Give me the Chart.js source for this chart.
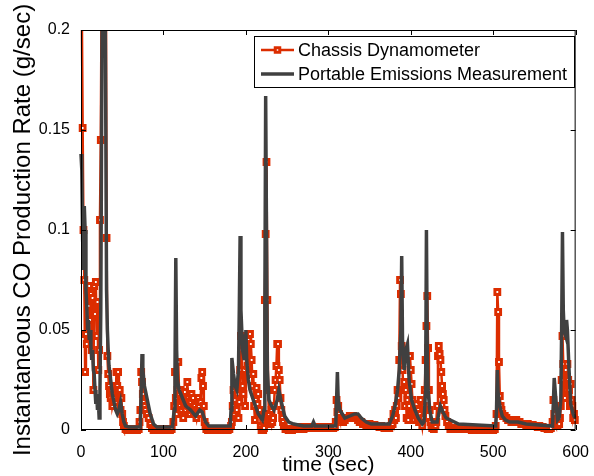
<!DOCTYPE html>
<html>
<head>
<meta charset="utf-8">
<script src="https://cdn.jsdelivr.net/npm/chart.js@4.4.0/dist/chart.umd.min.js"></script>
<style>
  html, body { margin: 0; padding: 0; background: #fff; }
  #wrap { width: 594px; height: 476px; }
</style>
</head>
<body>
<div id="wrap"><canvas id="coChart" width="594" height="476"></canvas></div>
<script>
const xTicks = [0, 100, 200, 300, 400, 500, 600];
const xTickLabels = ['0', '100', '200', '300', '400', '500', '600'];
const yTicks = [0, 0.05, 0.1, 0.15, 0.2];
const yTickLabels = ['0', '0.05', '0.1', '0.15', '0.2'];
const seriesNames = ['Chassis Dynamometer', 'Portable Emissions Measurement'];

// [time (sec), CO rate (g/sec)]
const chassisDyno = [
  [0,0.26],[1,0.21],[2,0.151],[3,0.1],[4,0.075],[5,0.029],[6,0.048],[7,0.043],[8,0.07],[9,0.062],
  [10,0.072],[11,0.055],[12,0.068],[13,0.04],[14,0.066],[15,0.02],[16,0.072],[17,0.058],[18,0.074],[19,0.047],
  [20,0.064],[21,0.03],[22,0.04],[23,0.105],[24,0.145],[25,0.22],[26,0.26],[28,0.26],[30,0.26],[31,0.096],
  [32,0.037],[33,0.028],[34,0.022],[35,0.018],[36,0.016],[37,0.02],[38,0.012],[39,0.014],[40,0.016],[41,0.022],
  [42,0.014],[43,0.029],[44,0.022],[45,0.029],[46,0.016],[47,0.02],[48,0.01],[49,0.016],[50,0.008],[51,0.004],
  [52,0.002],[54,0.0005],[56,0],[58,0],[60,0.0005],[62,0],[64,0.0005],[66,0],[68,0],[70,0.0005],
  [71,0.004],[72,0.01],[73,0.029],[74,0.024],[75,0.018],[76,0.014],[77,0.012],[78,0.01],[80,0.008],[82,0.006],
  [84,0.003],[86,0.001],[88,0],[90,0],[92,0.0005],[94,0],[96,0],[98,0.0005],[100,0],[102,0],
  [104,0.0005],[106,0],[108,0],[110,0.0005],[112,0.004],[113,0.012],[114,0.029],[115,0.016],[116,0.008],[117,0.02],
  [118,0.034],[119,0.018],[120,0.012],[121,0.02],[122,0.01],[123,0.016],[124,0.006],[125,0.012],[126,0.019],[127,0.01],
  [128,0.014],[129,0.024],[130,0.016],[131,0.012],[132,0.008],[133,0.014],[134,0.018],[135,0.01],[136,0.016],[137,0.008],
  [138,0.012],[139,0.008],[140,0.006],[141,0.01],[142,0.016],[143,0.012],[144,0.008],[145,0.014],[146,0.026],[147,0.029],
  [148,0.022],[149,0.012],[150,0.004],[151,0.002],[152,0.0005],[154,0],[156,0],[158,0.0005],[160,0],[162,0],
  [164,0.0005],[166,0],[168,0],[170,0.0005],[172,0],[174,0],[176,0.0005],[178,0],[180,0.0005],[182,0.002],
  [183,0.004],[184,0.012],[185,0.02],[186,0.008],[187,0.015],[188,0.022],[189,0.01],[190,0.018],[191,0.006],[192,0.014],
  [193,0.03],[194,0.047],[195,0.04],[196,0.022],[197,0.018],[198,0.03],[199,0.012],[200,0.038],[201,0.047],[202,0.032],
  [203,0.045],[204,0.028],[205,0.048],[206,0.043],[207,0.035],[208,0.022],[209,0.028],[210,0.012],[211,0.005],[212,0.015],
  [213,0.021],[214,0.013],[215,0.018],[216,0.008],[217,0.01],[218,0.002],[219,0],[220,0],[221,0],[222,0.001],
  [223,0.065],[224,0.098],[225,0.134],[226,0.065],[227,0.02],[228,0.008],[229,0.004],[230,0.003],[231,0.01],[232,0.004],
  [233,0.006],[234,0.012],[235,0.02],[236,0.025],[237,0.032],[238,0.043],[239,0.043],[240,0.03],[241,0.025],[242,0.016],
  [243,0.01],[244,0.006],[245,0.004],[246,0.002],[248,0.0005],[250,0.0005],[252,0],[254,0.0005],[256,0],[258,0.0005],
  [260,0.0005],[262,0.001],[264,0.0005],[266,0.0015],[268,0.001],[270,0.0005],[272,0.001],[274,0.0015],[276,0.001],[278,0.0015],
  [280,0.001],[282,0.0015],[284,0.001],[286,0.0015],[288,0.0015],[290,0.001],[292,0.0015],[294,0.001],[296,0.0015],[298,0.001],
  [300,0.0015],[302,0.001],[304,0.0015],[306,0.001],[308,0.0015],[309,0.004],[310,0.015],[311,0.009],[312,0.012],[313,0.008],
  [314,0.006],[316,0.005],[318,0.004],[320,0.005],[322,0.006],[324,0.006],[326,0.007],[328,0.006],[330,0.007],[332,0.006],
  [334,0.006],[336,0.005],[338,0.004],[340,0.004],[342,0.003],[344,0.003],[346,0.0025],[348,0.003],[350,0.003],[352,0.0025],
  [354,0.002],[356,0.0025],[358,0.002],[360,0.002],[362,0.0015],[364,0.002],[366,0.0015],[368,0.001],[370,0.0015],[372,0.001],
  [374,0.001],[376,0.002],[377,0.004],[378,0.003],[379,0.008],[380,0.005],[381,0.01],[382,0.006],[383,0.012],[384,0.02],
  [385,0.016],[386,0.035],[387,0.075],[388,0.068],[389,0.042],[390,0.03],[391,0.02],[392,0.024],[393,0.012],[394,0.02],
  [395,0.006],[396,0.015],[397,0.005],[398,0.012],[399,0.037],[400,0.03],[401,0.023],[402,0.015],[403,0.008],[404,0.005],
  [405,0.012],[406,0.008],[407,0.013],[408,0.006],[409,0.01],[410,0.004],[411,0.008],[412,0.015],[413,0.005],[414,0.002],
  [415,0.006],[416,0.012],[417,0.02],[418,0.035],[419,0.052],[420,0.067],[421,0.041],[422,0.02],[423,0.01],[424,0.004],
  [425,0.002],[426,0.001],[428,0.0005],[430,0.002],[431,0.004],[432,0.012],[433,0.037],[434,0.042],[435,0.038],[436,0.035],
  [437,0.029],[438,0.022],[439,0.018],[440,0.015],[441,0.01],[442,0.007],[444,0.004],[446,0.002],[448,0.0005],[450,0.0005],
  [452,0.001],[454,0.0005],[456,0.001],[458,0.0005],[460,0.0005],[462,0.001],[464,0.0005],[466,0.0005],[468,0.001],[470,0.0005],
  [472,0.0005],[474,0],[476,0.0005],[478,0],[480,0],[482,0.0005],[484,0],[486,0],[488,0.0005],[490,0],
  [492,0],[494,0],[496,0.0005],[498,0],[500,0],[502,0.0005],[503,0.002],[504,0.008],[505,0.069],[506,0.059],
  [507,0.034],[508,0.017],[509,0.012],[510,0.01],[511,0.008],[512,0.007],[514,0.007],[516,0.006],[518,0.005],[520,0.005],
  [522,0.004],[524,0.004],[526,0.004],[528,0.005],[530,0.004],[532,0.004],[534,0.003],[536,0.003],[538,0.003],[540,0.0025],
  [542,0.003],[544,0.0025],[546,0.002],[548,0.0025],[550,0.002],[552,0.002],[554,0.0015],[556,0.002],[558,0.0015],[560,0.0015],
  [562,0.001],[564,0.001],[566,0.0005],[568,0.0005],[570,0.001],[572,0.004],[573,0.015],[574,0.008],[575,0.003],[576,0.002],
  [578,0.002],[580,0.003],[581,0.006],[582,0.012],[583,0.025],[584,0.047],[585,0.033],[586,0.02],[587,0.016],[588,0.03],
  [589,0.02],[590,0.033],[591,0.025],[592,0.02],[593,0.012],[594,0.023],[595,0.015],[596,0.012],[597,0.006],[598,0.008],[599,0.005]
];

const pemsData = [
  [0,0.138],[1,0.13],[2,0.095],[3,0.08],[4,0.112],[5,0.1],[6,0.07],[7,0.062],[8,0.05],[9,0.055],
  [10,0.045],[11,0.05],[12,0.042],[13,0.035],[14,0.04],[15,0.03],[16,0.028],[17,0.02],[18,0.013],[19,0.018],
  [20,0.01],[21,0.015],[22,0.006],[23,0.02],[24,0.06],[25,0.15],[26,0.24],[29,0.24],[30,0.16],[31,0.07],
  [32,0.05],[33,0.04],[34,0.032],[36,0.025],[38,0.018],[40,0.014],[42,0.01],[44,0.008],[46,0.01],[48,0.014],
  [50,0.008],[52,0.004],[54,0.002],[58,0.0015],[72,0.0015],[73,0.02],[74,0.038],[75,0.03],[77,0.022],[80,0.016],
  [84,0.008],[88,0.003],[92,0.0015],[111,0.0015],[113,0.01],[114,0.03],[115,0.086],[116,0.04],[117,0.025],[119,0.02],
  [123,0.016],[127,0.012],[133,0.01],[139,0.007],[144,0.01],[147,0.009],[151,0.004],[155,0.002],[181,0.002],[182,0.01],
  [183,0.036],[185,0.028],[187,0.022],[189,0.02],[191,0.03],[192,0.06],[193,0.097],[194,0.06],[196,0.04],[198,0.035],
  [199,0.047],[200,0.05],[201,0.035],[203,0.025],[205,0.02],[209,0.015],[215,0.008],[220,0.005],[222,0.01],[223,0.06],
  [224,0.167],[225,0.1],[226,0.03],[228,0.015],[230,0.013],[234,0.01],[238,0.015],[240,0.02],[243,0.014],[247,0.007],
  [252,0.004],[258,0.003],[270,0.002],[280,0.002],[282,0.004],[284,0.002],[309,0.002],[310,0.015],[311,0.029],[312,0.015],
  [314,0.01],[317,0.008],[320,0.006],[326,0.007],[332,0.008],[336,0.008],[340,0.006],[346,0.004],[352,0.003],[374,0.003],
  [378,0.007],[381,0.012],[384,0.02],[386,0.03],[388,0.05],[389,0.087],[390,0.045],[392,0.03],[394,0.04],[396,0.043],
  [398,0.025],[401,0.015],[405,0.01],[409,0.006],[414,0.003],[416,0.004],[418,0.02],[419,0.1],[420,0.04],[421,0.02],
  [423,0.01],[426,0.004],[432,0.004],[434,0.008],[436,0.012],[439,0.009],[443,0.006],[448,0.005],[458,0.003],[503,0.002],
  [504,0.01],[505,0.03],[506,0.018],[508,0.012],[511,0.007],[515,0.005],[520,0.004],[530,0.004],[540,0.003],[572,0.002],
  [574,0.026],[576,0.015],[578,0.005],[580,0.006],[582,0.015],[583,0.05],[584,0.099],[585,0.06],[586,0.05],[588,0.047],
  [589,0.055],[590,0.05],[592,0.03],[594,0.013],[597,0.008],[599,0.006]
];

const RED = '#dc2d00';
const GRAY = '#404040';
const FONT = "'Liberation Sans', Arial, Helvetica, sans-serif";

// box, inward ticks and boxed legend, MATLAB style
const matlabFrame = {
    id: 'matlabFrame',
    afterDraw(chart) {
        const { ctx, chartArea: a, scales: { x, y } } = chart;
        ctx.save();
        ctx.strokeStyle = '#000';
        ctx.lineWidth = 1;
        ctx.beginPath();
        ctx.rect(a.left + 0.5, a.top + 0.5, a.right - a.left - 1, a.bottom - a.top - 1);
        xTicks.forEach(v => {
            const px = Math.round(x.getPixelForValue(v)) + 0.5;
            ctx.moveTo(px, a.bottom); ctx.lineTo(px, a.bottom - 5);
            ctx.moveTo(px, a.top); ctx.lineTo(px, a.top + 5);
        });
        yTicks.forEach(v => {
            const py = Math.round(y.getPixelForValue(v)) + 0.5;
            ctx.moveTo(a.left, py); ctx.lineTo(a.left + 5, py);
            ctx.moveTo(a.right, py); ctx.lineTo(a.right - 5, py);
        });
        ctx.stroke();

        // legend
        const lx = 254, ly = 36, lw = 320, lh = 51;
        ctx.fillStyle = '#fff';
        ctx.fillRect(lx, ly, lw, lh);
        ctx.strokeRect(lx + 0.5, ly + 0.5, lw, lh);

        const rows = [50, 74];
        ctx.lineWidth = 2.5;
        ctx.strokeStyle = RED;
        ctx.beginPath(); ctx.moveTo(261, rows[0]); ctx.lineTo(294, rows[0]); ctx.stroke();
        ctx.lineWidth = 3;
        ctx.fillStyle = '#fff';
        ctx.beginPath(); ctx.rect(275.25, rows[0] - 2.25, 4.5, 4.5); ctx.fill(); ctx.stroke();
        ctx.lineWidth = 3.5;
        ctx.strokeStyle = GRAY;
        ctx.beginPath(); ctx.moveTo(261, rows[1]); ctx.lineTo(294, rows[1]); ctx.stroke();

        ctx.fillStyle = '#000';
        ctx.font = '18px ' + FONT;
        ctx.textBaseline = 'middle';
        ctx.textAlign = 'left';
        ctx.fillText(seriesNames[0], 298, rows[0] + 1);
        ctx.fillText(seriesNames[1], 298, rows[1] + 1);
        ctx.restore();
    }
};

const toPoints = arr => arr.map(p => ({ x: p[0], y: p[1] }));

const ctx = document.getElementById('coChart').getContext('2d');
new Chart(ctx, {
    type: 'line',
    data: {
        datasets: [
            {
                label: seriesNames[0],
                data: toPoints(chassisDyno),
                borderColor: RED,
                borderWidth: 2.5,
                pointStyle: 'rect',
                pointRadius: 3.4,
                pointBorderWidth: 3,
                pointBorderColor: RED,
                pointBackgroundColor: '#fff',
                tension: 0,
                order: 1,
                clip: { left: 6, top: 0, right: 6, bottom: 6 }
            },
            {
                label: seriesNames[1],
                data: toPoints(pemsData),
                borderColor: GRAY,
                borderWidth: 3.5,
                pointRadius: 0,
                tension: 0,
                order: 0,
                clip: { left: 2, top: 0, right: 2, bottom: 2 }
            }
        ]
    },
    options: {
        responsive: false,
        animation: false,
        devicePixelRatio: 1,
        layout: { padding: { left: 0, right: 15, top: 30, bottom: 0 } },
        plugins: {
            legend: { display: false },
            tooltip: { enabled: false }
        },
        scales: {
            x: {
                type: 'linear',
                min: 0,
                max: 600,
                afterBuildTicks: s => { s.ticks = xTicks.map(v => ({ value: v })); },
                afterFit: s => { s.height = 46; },
                grid: { display: false },
                border: { display: false },
                ticks: {
                    color: '#000',
                    font: { family: FONT, size: 16 },
                    padding: 5,
                    maxRotation: 0,
                    autoSkip: false,
                    callback: (v, i) => xTickLabels[i]
                },
                title: {
                    display: true,
                    text: 'time (sec)',
                    color: '#000',
                    font: { family: FONT, size: 21, lineHeight: 1 },
                    padding: { top: 0, bottom: 0 }
                }
            },
            y: {
                type: 'linear',
                min: 0,
                max: 0.2,
                afterBuildTicks: s => { s.ticks = yTicks.map(v => ({ value: v })); },
                afterFit: s => { s.width = 81; },
                grid: { display: false },
                border: { display: false },
                ticks: {
                    color: '#000',
                    font: { family: FONT, size: 16 },
                    padding: 3,
                    autoSkip: false,
                    callback: (v, i) => yTickLabels[i]
                },
                title: {
                    display: true,
                    text: 'Instantaneous CO Production Rate (g/sec)',
                    color: '#000',
                    font: { family: FONT, size: 24, lineHeight: 1 },
                    padding: { top: 11, bottom: 0 }
                }
            }
        }
    },
    plugins: [matlabFrame]
});
</script>
</body>
</html>
